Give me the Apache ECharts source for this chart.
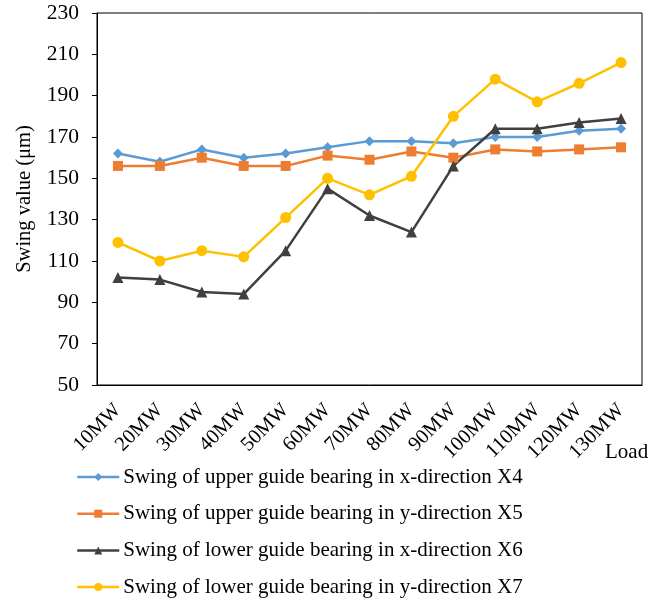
<!DOCTYPE html>
<html>
<head>
<meta charset="utf-8">
<script src="https://cdn.jsdelivr.net/npm/echarts@6/dist/echarts.min.js"></script>
<style>
  html, body { margin: 0; padding: 0; background: #fff; }
  #chart { width: 664px; height: 603px; }
</style>
</head>
<body>
<div id="chart"></div>
<script>
// 负荷类别
var categories = ['10MW', '20MW', '30MW', '40MW', '50MW', '60MW', '70MW', '80MW', '90MW', '100MW', '110MW', '120MW', '130MW'];
// 各测点摆度值 (μm)
var upperX4 = [162, 158, 164, 160, 162, 165, 168, 168, 167, 170, 170, 173, 174];
var upperY5 = [156, 156, 160, 156, 156, 161, 159, 163, 160, 164, 163, 164, 165];
var lowerX6 = [102, 101, 95, 94, 115, 145, 132, 124, 156, 174, 174, 177, 179];
var lowerY7 = [119, 110, 115, 112, 131, 150, 142, 151, 180, 198, 187, 196, 206];

var seriesNames = [
  'Swing of upper guide bearing in x-direction X4',
  'Swing of upper guide bearing in y-direction X5',
  'Swing of lower guide bearing in x-direction X6',
  'Swing of lower guide bearing in y-direction X7'
];

var font = '"Liberation Serif", "DejaVu Serif", serif';

function lineSeries(name, data, color, symbol, size) {
  return {
    name: name,
    type: 'line',
    data: data,
    symbol: symbol,
    symbolSize: size,
    lineStyle: { color: color, width: 2.5 },
    itemStyle: { color: color },
    emphasis: { disabled: true },
    animation: false
  };
}

var myChart = echarts.init(document.getElementById('chart'));
myChart.setOption({
  backgroundColor: '#fff',
  textStyle: { fontFamily: font },
  title: {
    text: 'Load',
    left: 605,
    top: 442,
    padding: 0,
    textStyle: { fontFamily: font, fontSize: 21, fontWeight: 'normal', color: '#000' }
  },
  grid: {
    left: 97, right: 22, top: 13, bottom: 218,
    show: true, borderColor: '#000', borderWidth: 1
  },
  legend: {
    orient: 'vertical',
    left: 76,
    top: 465,
    padding: 0,
    itemWidth: 42,
    itemHeight: 10,
    itemGap: 12.7,
    lineStyle: { width: 2.5 },
    textStyle: { fontFamily: font, fontSize: 21, color: '#000', lineHeight: 24, padding: [0, 0, 0, -1] },
    data: seriesNames
  },
  xAxis: {
    type: 'category',
    data: categories,
    boundaryGap: true,
    axisLine: { lineStyle: { color: '#000', width: 1 } },
    axisTick: { inside: true, length: 5, lineStyle: { color: '#000' } },
    axisLabel: { rotate: 45, fontSize: 20.5, color: '#000', fontFamily: font, interval: 0, margin: 22 },
    splitLine: { show: false }
  },
  yAxis: {
    type: 'value',
    min: 50,
    max: 230,
    interval: 20,
    name: 'Swing value (μm)',
    nameLocation: 'middle',
    nameGap: 62,
    nameTextStyle: { fontFamily: font, fontSize: 20.5, color: '#000' },
    axisLine: { show: true, lineStyle: { color: '#000', width: 1 } },
    axisTick: { show: true, length: 5, lineStyle: { color: '#000' } },
    axisLabel: { fontSize: 21.5, color: '#000', fontFamily: font, margin: 18 },
    splitLine: { show: false }
  },
  series: [
    lineSeries(seriesNames[0], upperX4, '#5B9BD5', 'diamond', 10),
    lineSeries(seriesNames[1], upperY5, '#ED7D31', 'rect', 10),
    lineSeries(seriesNames[2], lowerX6, '#404040', 'triangle', 11),
    lineSeries(seriesNames[3], lowerY7, '#FFC000', 'circle', 11)
  ]
});
</script>
</body>
</html>
